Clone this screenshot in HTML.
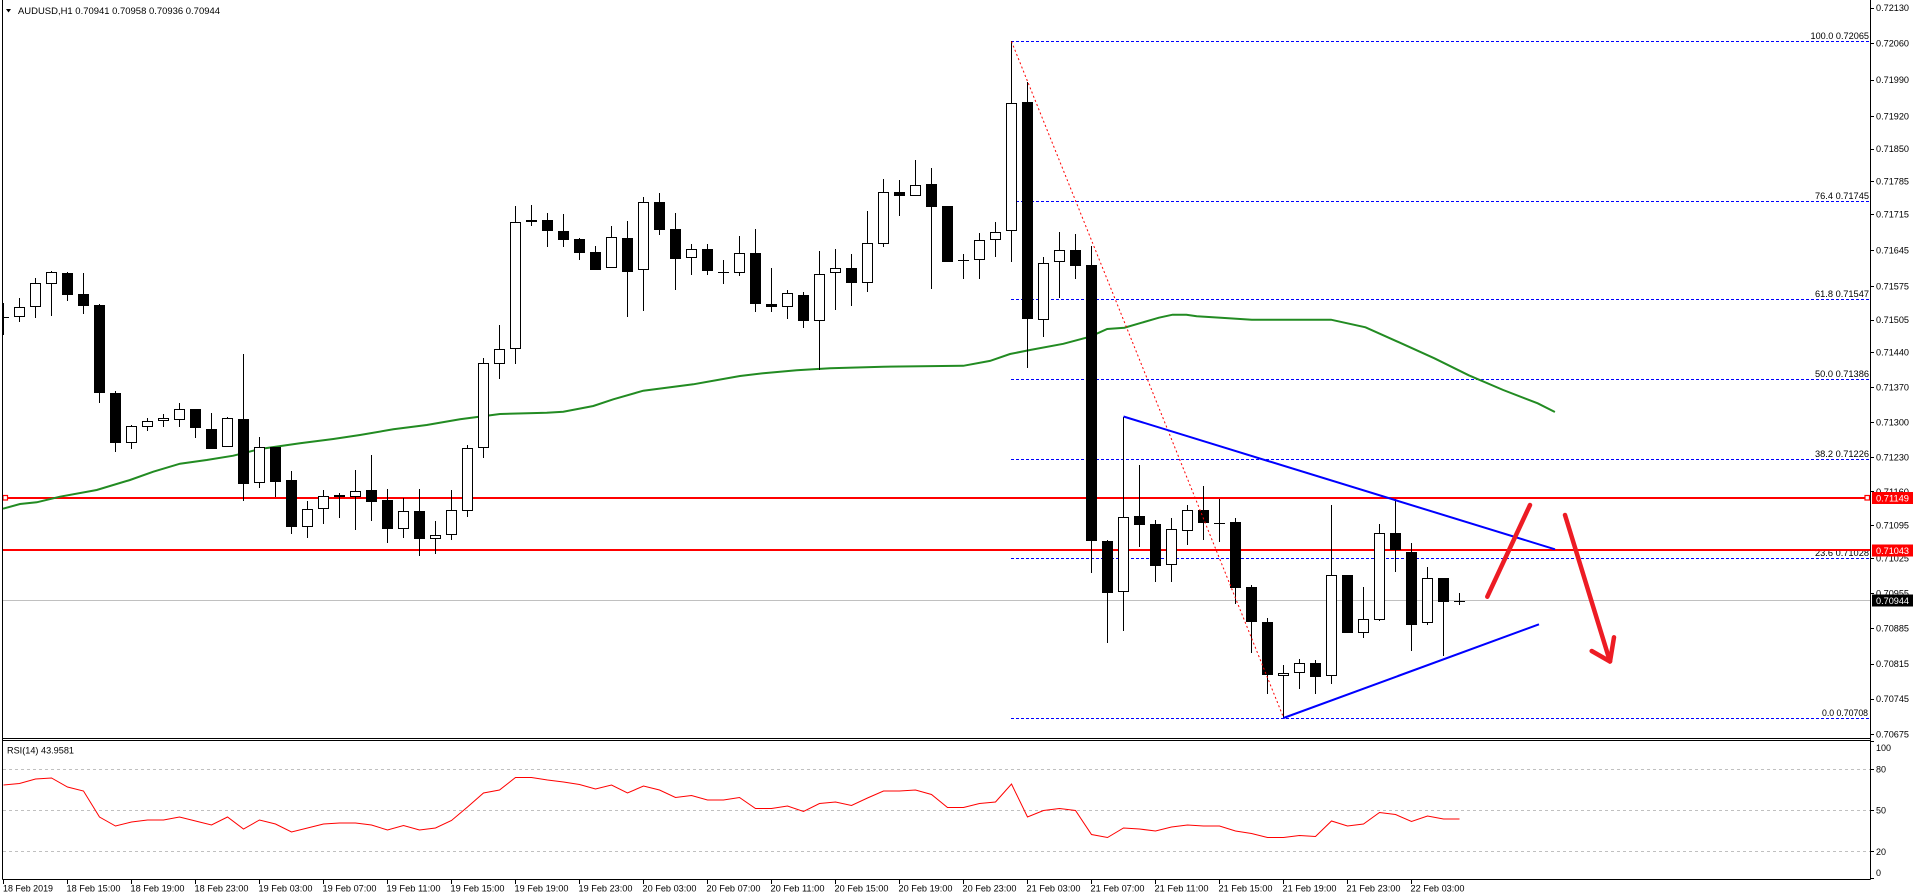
<!DOCTYPE html>
<html><head><meta charset="utf-8"><style>
html,body{margin:0;padding:0;background:#fff;}
svg{display:block;}
text{font-family:"Liberation Sans",sans-serif;font-size:9.5px;fill:#000;}
</style></head><body>
<svg width="1916" height="896" viewBox="0 0 1916 896" xmlns="http://www.w3.org/2000/svg">
<rect x="0" y="0" width="1916" height="896" fill="#fff"/>

<!-- header -->
<polygon points="6,9 11,9 8.5,12.5" fill="#000"/>
<text x="18" y="14" textLength="202" lengthAdjust="spacingAndGlyphs">AUDUSD,H1  0.70941 0.70958 0.70936 0.70944</text>

<!-- fib lines -->
<g stroke="#0000ff" stroke-width="1" stroke-dasharray="3,2" shape-rendering="crispEdges">
<line x1="1011" y1="41.5" x2="1869" y2="41.5"/>
<line x1="1011" y1="201.5" x2="1869" y2="201.5"/>
<line x1="1011" y1="299.5" x2="1869" y2="299.5"/>
<line x1="1011" y1="379.5" x2="1869" y2="379.5"/>
<line x1="1011" y1="459.5" x2="1869" y2="459.5"/>
<line x1="1011" y1="558.5" x2="1869" y2="558.5"/>
<line x1="1011" y1="718.5" x2="1869" y2="718.5"/>
</g>
<g style="fill:#1a1aff">
<text x="1810.5" y="39" textLength="58.5" lengthAdjust="spacingAndGlyphs" fill="#1a1aff">100.0 0.72065</text>
<text x="1815" y="199" textLength="54" lengthAdjust="spacingAndGlyphs" fill="#1a1aff">76.4 0.71745</text>
<text x="1815" y="297" textLength="54" lengthAdjust="spacingAndGlyphs" fill="#1a1aff">61.8 0.71547</text>
<text x="1815" y="377" textLength="54" lengthAdjust="spacingAndGlyphs" fill="#1a1aff">50.0 0.71386</text>
<text x="1815" y="457" textLength="54" lengthAdjust="spacingAndGlyphs" fill="#1a1aff">38.2 0.71226</text>
<text x="1815" y="556" textLength="54" lengthAdjust="spacingAndGlyphs" fill="#1a1aff">23.6 0.71028</text>
<text x="1822" y="716" textLength="46" lengthAdjust="spacingAndGlyphs" fill="#1a1aff">0.0 0.70708</text>
</g>

<!-- current price line -->
<line x1="3" y1="600.5" x2="1870" y2="600.5" stroke="#c0c0c0" stroke-width="1" shape-rendering="crispEdges"/>

<!-- red horizontal lines -->
<g stroke="#ff0000" stroke-width="2" shape-rendering="crispEdges">
<line x1="3" y1="498" x2="1870" y2="498"/>
<line x1="3" y1="550" x2="1870" y2="550"/>
</g>
<rect x="3" y="495.5" width="4.5" height="4.5" fill="#fff" stroke="#ff0000" stroke-width="1.2"/>
<rect x="1865" y="495.5" width="4.5" height="4.5" fill="#fff" stroke="#ff0000" stroke-width="1.2"/>

<!-- moving average -->
<polyline fill="none" stroke="#228b22" stroke-width="2" points="3,508.7 20,504 36.7,502.3 60,496.7 96.7,490 130,480 153.3,471.7 180,463.7 206.7,460 233.3,455.7 260,449 300,443.3 333.3,439 360,435 393.3,429.3 426.7,425 460,419.3 500,414 546.7,412.7 563.3,411.7 593.3,406 613.3,399.3 643.3,390.7 693.3,384.3 740,376 763.3,373.2 796.7,370.3 830,368.3 883.3,366.7 963.3,365.8 990,360.9 1010,354 1030,350 1063.3,343.8 1090,336.7 1107.2,329 1124.4,327.7 1141.7,322.7 1158.9,317.7 1172.6,314.7 1186.4,314.7 1196.7,316.3 1220.9,317.7 1251.8,319.7 1331,319.7 1365.5,327.3 1399.9,342.7 1434.4,358.3 1468.8,375.3 1503.2,390 1537.7,403.3 1554.9,412"/>

<!-- wicks -->
<path fill="none" stroke="#000" stroke-width="1" shape-rendering="crispEdges" d="M3.5 303V335M19.5 298V322M35.5 278V318M51.5 271V316M67.5 272V301M83.5 273V314M99.5 304V403M115.5 391V452M131.5 425V449M147.5 418V431M163.5 414V427M179.5 403V427M195.5 409V438M211.5 413V449M227.5 417V447M243.5 354V501M259.5 437V488M275.5 447V497M291.5 471V534M307.5 501V538M323.5 490V524M339.5 493V518M355.5 470V530M371.5 455V521M387.5 489V543M403.5 498V538M419.5 489V556M435.5 521V554M451.5 490V540M467.5 445V517M483.5 358V458M499.5 325V379M515.5 206V364M531.5 205V226M547.5 213V247M563.5 214V247M579.5 238V260M595.5 246V270M611.5 226V268M627.5 221V317M643.5 197V311M659.5 193V235M675.5 213V290M691.5 244V275M707.5 244V275M723.5 260V284M739.5 236V276M755.5 229V312M771.5 268V312M787.5 290V319M803.5 292V328M819.5 251V370M835.5 249V310M851.5 254V306M867.5 211V292M883.5 179V247M899.5 180V216M915.5 160V196M931.5 168V289M947.5 206V262M963.5 254V279M979.5 233V279M995.5 222V257M1011.5 41V262M1027.5 82V368M1043.5 257V337M1059.5 232V298M1075.5 234V279M1091.5 246V573M1107.5 540V643M1123.5 417V631M1139.5 465V547M1155.5 520V582M1171.5 518V582M1187.5 505V545M1203.5 486V540M1219.5 499V542M1235.5 518V604M1251.5 585V653M1267.5 618V694M1283.5 665V718M1299.5 659V689M1315.5 660V694M1331.5 505V684M1347.5 575V633M1363.5 587V638M1379.5 524V621M1395.5 499V572M1411.5 543V651M1427.5 567V625M1443.5 578V656M1459.5 593V605"/>

<!-- doji -->
<path fill="none" stroke="#000" stroke-width="1" shape-rendering="crispEdges" d="M3 317.5H9M718 272.5H729M958 260.5H969M1214 523.5H1225M1454 601.5H1465"/>

<!-- bear bodies -->
<g fill="#000" shape-rendering="crispEdges">
<rect x="62" y="273" width="11" height="22"/>
<rect x="78" y="294" width="11" height="12"/>
<rect x="94" y="305" width="11" height="88"/>
<rect x="110" y="393" width="11" height="50"/>
<rect x="190" y="409" width="11" height="19"/>
<rect x="206" y="429" width="11" height="20"/>
<rect x="238" y="419" width="11" height="65"/>
<rect x="270" y="447" width="11" height="35"/>
<rect x="286" y="480" width="11" height="47"/>
<rect x="334" y="495" width="11" height="2"/>
<rect x="366" y="490" width="11" height="12"/>
<rect x="382" y="500" width="11" height="29"/>
<rect x="414" y="511" width="11" height="28"/>
<rect x="542" y="220" width="11" height="11"/>
<rect x="558" y="231" width="11" height="9"/>
<rect x="574" y="239" width="11" height="14"/>
<rect x="590" y="252" width="11" height="18"/>
<rect x="622" y="238" width="11" height="34"/>
<rect x="654" y="202" width="11" height="28"/>
<rect x="670" y="229" width="11" height="30"/>
<rect x="702" y="249" width="11" height="22"/>
<rect x="750" y="253" width="11" height="51"/>
<rect x="766" y="304" width="11" height="3"/>
<rect x="798" y="295" width="11" height="26"/>
<rect x="846" y="268" width="11" height="15"/>
<rect x="894" y="192" width="11" height="4"/>
<rect x="926" y="184" width="11" height="23"/>
<rect x="942" y="206" width="11" height="56"/>
<rect x="1022" y="102" width="11" height="217"/>
<rect x="1070" y="250" width="11" height="16"/>
<rect x="1086" y="265" width="11" height="276"/>
<rect x="1102" y="541" width="11" height="52"/>
<rect x="1134" y="516" width="11" height="9"/>
<rect x="1150" y="524" width="11" height="42"/>
<rect x="1198" y="510" width="11" height="13"/>
<rect x="1230" y="522" width="11" height="66"/>
<rect x="1246" y="587" width="11" height="35"/>
<rect x="1262" y="622" width="11" height="53"/>
<rect x="1310" y="663" width="11" height="14"/>
<rect x="1342" y="575" width="11" height="58"/>
<rect x="1390" y="533" width="11" height="17"/>
<rect x="1406" y="552" width="11" height="73"/>
<rect x="1438" y="578" width="11" height="24"/>
</g>

<!-- bull bodies -->
<g fill="#fff" stroke="#000" stroke-width="1" shape-rendering="crispEdges">
<rect x="14.5" y="307.5" width="10" height="9"/>
<rect x="30.5" y="283.5" width="10" height="23"/>
<rect x="46.5" y="272.5" width="10" height="11"/>
<rect x="126.5" y="426.5" width="10" height="16"/>
<rect x="142.5" y="421.5" width="10" height="5"/>
<rect x="158.5" y="418.5" width="10" height="2"/>
<rect x="174.5" y="409.5" width="10" height="10"/>
<rect x="222.5" y="418.5" width="10" height="28"/>
<rect x="254.5" y="447.5" width="10" height="35"/>
<rect x="302.5" y="509.5" width="10" height="17"/>
<rect x="318.5" y="496.5" width="10" height="12"/>
<rect x="350.5" y="491.5" width="10" height="5"/>
<rect x="398.5" y="511.5" width="10" height="17"/>
<rect x="430.5" y="535.5" width="10" height="3"/>
<rect x="446.5" y="510.5" width="10" height="24"/>
<rect x="462.5" y="448.5" width="10" height="62"/>
<rect x="478.5" y="363.5" width="10" height="84"/>
<rect x="494.5" y="349.5" width="10" height="14"/>
<rect x="510.5" y="222.5" width="10" height="126"/>
<rect x="526.5" y="220.5" width="10" height="1"/>
<rect x="606.5" y="237.5" width="10" height="30"/>
<rect x="638.5" y="202.5" width="10" height="67"/>
<rect x="686.5" y="249.5" width="10" height="8"/>
<rect x="734.5" y="253.5" width="10" height="19"/>
<rect x="782.5" y="293.5" width="10" height="13"/>
<rect x="814.5" y="274.5" width="10" height="46"/>
<rect x="830.5" y="268.5" width="10" height="4"/>
<rect x="862.5" y="243.5" width="10" height="39"/>
<rect x="878.5" y="192.5" width="10" height="51"/>
<rect x="910.5" y="185.5" width="10" height="10"/>
<rect x="974.5" y="240.5" width="10" height="19"/>
<rect x="990.5" y="232.5" width="10" height="7"/>
<rect x="1006.5" y="103.5" width="10" height="127"/>
<rect x="1038.5" y="263.5" width="10" height="56"/>
<rect x="1054.5" y="250.5" width="10" height="11"/>
<rect x="1118.5" y="517.5" width="10" height="74"/>
<rect x="1166.5" y="529.5" width="10" height="35"/>
<rect x="1182.5" y="510.5" width="10" height="20"/>
<rect x="1278.5" y="673.5" width="10" height="2"/>
<rect x="1294.5" y="663.5" width="10" height="9"/>
<rect x="1326.5" y="575.5" width="10" height="100"/>
<rect x="1358.5" y="619.5" width="10" height="13"/>
<rect x="1374.5" y="533.5" width="10" height="86"/>
<rect x="1422.5" y="578.5" width="10" height="44"/>
</g>

<!-- red dotted fib line -->
<line x1="1011.5" y1="41.5" x2="1283.5" y2="717.5" stroke="#ff0000" stroke-width="1" stroke-dasharray="2,2.5"/>

<!-- blue trendlines -->
<g stroke="#0000ff" stroke-width="2" fill="none">
<line x1="1123.5" y1="416.5" x2="1555" y2="549.3"/>
<line x1="1283.5" y1="718" x2="1539" y2="624.3"/>
</g>

<!-- red arrows -->
<g stroke="#ed1c24" stroke-width="4.5" stroke-linecap="round" stroke-linejoin="round" fill="none">
<line x1="1487.3" y1="596.7" x2="1530" y2="505"/>
<line x1="1565" y1="515" x2="1610" y2="661.5"/>
<polyline points="1591.7,651 1610,661.5 1614,637.3"/>
</g>

<!-- frame -->
<g stroke="#000" stroke-width="1" shape-rendering="crispEdges" fill="none">
<line x1="2.5" y1="0" x2="2.5" y2="879.5"/>
<line x1="1870.5" y1="0" x2="1870.5" y2="879.5"/>
<line x1="2.5" y1="738.5" x2="1870.5" y2="738.5"/>
<line x1="2.5" y1="740.5" x2="1870.5" y2="740.5"/>
<line x1="2.5" y1="879.5" x2="1870.5" y2="879.5"/>
</g>

<!-- price axis ticks -->
<path stroke="#000" stroke-width="1" shape-rendering="crispEdges" d="M1870 8.5H1874M1870 43.5H1874M1870 80.5H1874M1870 116.5H1874M1870 149.5H1874M1870 181.5H1874M1870 214.5H1874M1870 250.5H1874M1870 286.5H1874M1870 320.5H1874M1870 352.5H1874M1870 387.5H1874M1870 422.5H1874M1870 457.5H1874M1870 491.5H1874M1870 525.5H1874M1870 558.5H1874M1870 593.5H1874M1870 628.5H1874M1870 664.5H1874M1870 699.5H1874M1870 734.5H1874M1870 741.5H1874M1870 769.5H1874M1870 810.5H1874M1870 851.5H1874M1870 878.5H1874"/>

<!-- price axis labels -->
<g>
<text x="1876" y="11" textLength="33" lengthAdjust="spacingAndGlyphs">0.72130</text>
<text x="1876" y="46.7" textLength="33" lengthAdjust="spacingAndGlyphs">0.72060</text>
<text x="1876" y="83" textLength="33" lengthAdjust="spacingAndGlyphs">0.71990</text>
<text x="1876" y="119.7" textLength="33" lengthAdjust="spacingAndGlyphs">0.71920</text>
<text x="1876" y="152" textLength="33" lengthAdjust="spacingAndGlyphs">0.71850</text>
<text x="1876" y="184.7" textLength="33" lengthAdjust="spacingAndGlyphs">0.71785</text>
<text x="1876" y="217.3" textLength="33" lengthAdjust="spacingAndGlyphs">0.71715</text>
<text x="1876" y="253.7" textLength="33" lengthAdjust="spacingAndGlyphs">0.71645</text>
<text x="1876" y="289.7" textLength="33" lengthAdjust="spacingAndGlyphs">0.71575</text>
<text x="1876" y="323" textLength="33" lengthAdjust="spacingAndGlyphs">0.71505</text>
<text x="1876" y="355.7" textLength="33" lengthAdjust="spacingAndGlyphs">0.71440</text>
<text x="1876" y="390.3" textLength="33" lengthAdjust="spacingAndGlyphs">0.71370</text>
<text x="1876" y="425.3" textLength="33" lengthAdjust="spacingAndGlyphs">0.71300</text>
<text x="1876" y="460.7" textLength="33" lengthAdjust="spacingAndGlyphs">0.71230</text>
<text x="1876" y="494.9" textLength="33" lengthAdjust="spacingAndGlyphs">0.71160</text>
<text x="1876" y="528.7" textLength="33" lengthAdjust="spacingAndGlyphs">0.71095</text>
<text x="1876" y="561.3" textLength="33" lengthAdjust="spacingAndGlyphs">0.71025</text>
<text x="1876" y="596.5" textLength="33" lengthAdjust="spacingAndGlyphs">0.70955</text>
<text x="1876" y="631.5" textLength="33" lengthAdjust="spacingAndGlyphs">0.70885</text>
<text x="1876" y="667" textLength="33" lengthAdjust="spacingAndGlyphs">0.70815</text>
<text x="1876" y="702" textLength="33" lengthAdjust="spacingAndGlyphs">0.70745</text>
<text x="1876" y="737.5" textLength="33" lengthAdjust="spacingAndGlyphs">0.70675</text>
</g>

<!-- price boxes -->
<rect x="1872" y="492" width="41" height="12" fill="#ff0000"/>
<text x="1876" y="501.5" textLength="33" lengthAdjust="spacingAndGlyphs" fill="#fff" style="fill:#fff">0.71149</text>
<rect x="1872" y="544.5" width="41" height="12" fill="#ff0000"/>
<text x="1876" y="554" textLength="33" lengthAdjust="spacingAndGlyphs" fill="#fff" style="fill:#fff">0.71043</text>
<rect x="1872" y="594.5" width="41" height="12" fill="#000"/>
<text x="1876" y="604" textLength="33" lengthAdjust="spacingAndGlyphs" fill="#fff" style="fill:#fff">0.70944</text>

<!-- RSI panel -->
<g stroke="#c0c0c0" stroke-width="1" stroke-dasharray="3,3" shape-rendering="crispEdges">
<line x1="3" y1="769.5" x2="1870" y2="769.5"/>
<line x1="3" y1="810.5" x2="1870" y2="810.5"/>
<line x1="3" y1="851.5" x2="1870" y2="851.5"/>
</g>
<text x="7" y="753.5" textLength="67" lengthAdjust="spacingAndGlyphs">RSI(14) 43.9581</text>
<polyline fill="none" stroke="#ff0000" stroke-width="1" points="3.5,785 19.5,783.5 35.5,779 51.5,778 67.5,787 83.5,791 99.5,817 115.5,826 131.5,822 147.5,820 163.5,820 179.5,817 195.5,821 211.5,825 227.5,817 243.5,829 259.5,820 275.5,824 291.5,832 307.5,828 323.5,824 339.5,823 355.5,823 371.5,825 387.5,830 403.5,825.5 419.5,830 435.5,828 451.5,820.5 467.5,807 483.5,793 499.5,790 515.5,777.5 531.5,777.5 547.5,780 563.5,782 579.5,784.5 595.5,789 611.5,785 627.5,793 643.5,786 659.5,790 675.5,797.5 691.5,795.5 707.5,800 723.5,800 739.5,797.5 755.5,808.5 771.5,808.5 787.5,806 803.5,811.5 819.5,803.5 835.5,802 851.5,805.5 867.5,798 883.5,791 899.5,791 915.5,790 931.5,794.5 947.5,807.5 963.5,807.5 979.5,803.5 995.5,802 1011.5,784 1027.5,817 1043.5,810.5 1059.5,808.5 1075.5,810.5 1091.5,834.5 1107.5,837.5 1123.5,828 1139.5,829 1155.5,831 1171.5,827 1187.5,825 1203.5,826 1219.5,826 1235.5,831 1251.5,833.5 1267.5,837.5 1283.5,837.5 1299.5,835.5 1315.5,836.5 1331.5,821 1347.5,826 1363.5,824 1379.5,812.5 1395.5,814.5 1411.5,821.5 1427.5,816 1443.5,819 1459.5,819"/>
<text x="1876" y="751" textLength="15" lengthAdjust="spacingAndGlyphs">100</text>
<text x="1876" y="772.5" textLength="10" lengthAdjust="spacingAndGlyphs">80</text>
<text x="1876" y="813.5" textLength="10" lengthAdjust="spacingAndGlyphs">50</text>
<text x="1876" y="855" textLength="10" lengthAdjust="spacingAndGlyphs">20</text>
<text x="1876" y="876" textLength="5" lengthAdjust="spacingAndGlyphs">0</text>

<!-- time axis ticks -->
<path stroke="#000" stroke-width="1" shape-rendering="crispEdges" d="M3.5 879V884M67.5 879V884M131.5 879V884M195.5 879V884M259.5 879V884M323.5 879V884M387.5 879V884M451.5 879V884M515.5 879V884M579.5 879V884M643.5 879V884M707.5 879V884M771.5 879V884M835.5 879V884M899.5 879V884M963.5 879V884M1027.5 879V884M1091.5 879V884M1155.5 879V884M1219.5 879V884M1283.5 879V884M1347.5 879V884M1411.5 879V884"/>
<g>
<text x="3" y="891.5" textLength="50" lengthAdjust="spacingAndGlyphs">18 Feb 2019</text>
<text x="66.5" y="891.5" textLength="54" lengthAdjust="spacingAndGlyphs">18 Feb 15:00</text>
<text x="130.5" y="891.5" textLength="54" lengthAdjust="spacingAndGlyphs">18 Feb 19:00</text>
<text x="194.5" y="891.5" textLength="54" lengthAdjust="spacingAndGlyphs">18 Feb 23:00</text>
<text x="258.5" y="891.5" textLength="54" lengthAdjust="spacingAndGlyphs">19 Feb 03:00</text>
<text x="322.5" y="891.5" textLength="54" lengthAdjust="spacingAndGlyphs">19 Feb 07:00</text>
<text x="386.5" y="891.5" textLength="54" lengthAdjust="spacingAndGlyphs">19 Feb 11:00</text>
<text x="450.5" y="891.5" textLength="54" lengthAdjust="spacingAndGlyphs">19 Feb 15:00</text>
<text x="514.5" y="891.5" textLength="54" lengthAdjust="spacingAndGlyphs">19 Feb 19:00</text>
<text x="578.5" y="891.5" textLength="54" lengthAdjust="spacingAndGlyphs">19 Feb 23:00</text>
<text x="642.5" y="891.5" textLength="54" lengthAdjust="spacingAndGlyphs">20 Feb 03:00</text>
<text x="706.5" y="891.5" textLength="54" lengthAdjust="spacingAndGlyphs">20 Feb 07:00</text>
<text x="770.5" y="891.5" textLength="54" lengthAdjust="spacingAndGlyphs">20 Feb 11:00</text>
<text x="834.5" y="891.5" textLength="54" lengthAdjust="spacingAndGlyphs">20 Feb 15:00</text>
<text x="898.5" y="891.5" textLength="54" lengthAdjust="spacingAndGlyphs">20 Feb 19:00</text>
<text x="962.5" y="891.5" textLength="54" lengthAdjust="spacingAndGlyphs">20 Feb 23:00</text>
<text x="1026.5" y="891.5" textLength="54" lengthAdjust="spacingAndGlyphs">21 Feb 03:00</text>
<text x="1090.5" y="891.5" textLength="54" lengthAdjust="spacingAndGlyphs">21 Feb 07:00</text>
<text x="1154.5" y="891.5" textLength="54" lengthAdjust="spacingAndGlyphs">21 Feb 11:00</text>
<text x="1218.5" y="891.5" textLength="54" lengthAdjust="spacingAndGlyphs">21 Feb 15:00</text>
<text x="1282.5" y="891.5" textLength="54" lengthAdjust="spacingAndGlyphs">21 Feb 19:00</text>
<text x="1346.5" y="891.5" textLength="54" lengthAdjust="spacingAndGlyphs">21 Feb 23:00</text>
<text x="1410.5" y="891.5" textLength="54" lengthAdjust="spacingAndGlyphs">22 Feb 03:00</text>
</g>
</svg>
</body></html>
